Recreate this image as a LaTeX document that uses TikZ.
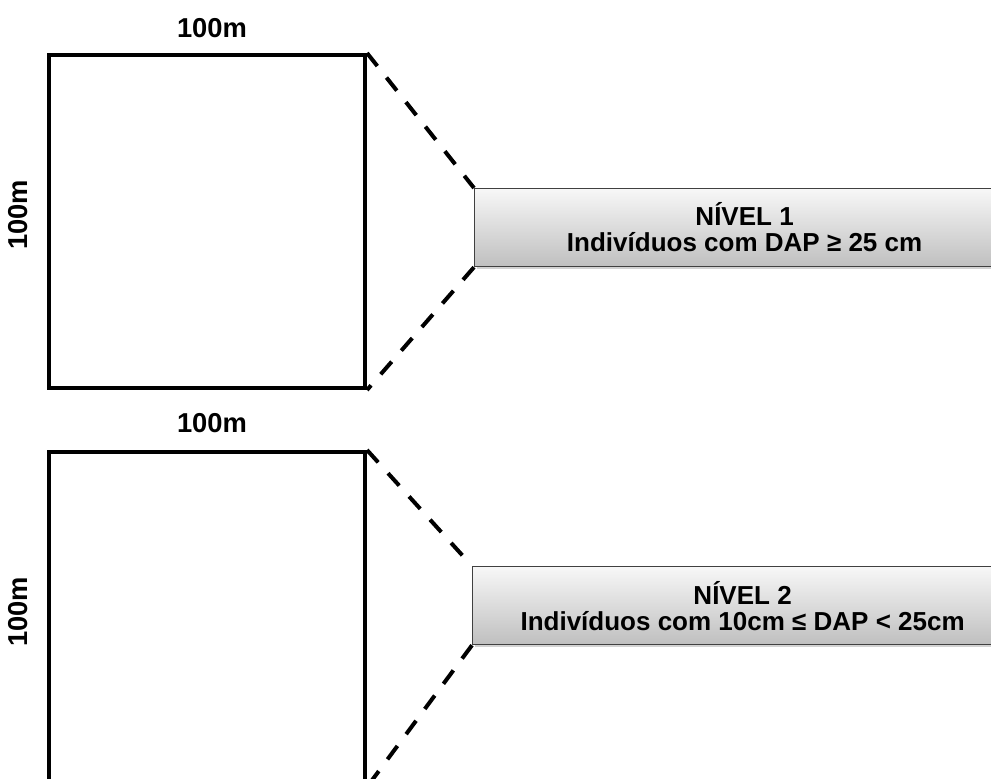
\documentclass[tikz,border=0pt]{standalone}
\usepackage{fontspec}
\setmainfont{Liberation Sans}
\usetikzlibrary{shadows}
\tikzset{
  plot/.style={draw,line width=3pt,minimum width=316*0.75pt,minimum height=333*0.75pt,inner sep=0pt},
  lvl/.style={draw=black!75,line width=0.9pt,top color=gray!6,bottom color=gray!50,
    drop shadow={shadow xshift=2pt,shadow yshift=-2pt,fill=black!35},
    minimum width=540*0.75pt,minimum height=78*0.75pt,align=center,font=\bfseries\fontsize{19.5}{19.5}\selectfont,anchor=north west,inner sep=0pt},
  lbl/.style={font=\bfseries\fontsize{20.5}{22}\selectfont},
  link/.style={line width=3pt,dash pattern=on 12.5pt off 11pt}
}
\begin{document}
\begin{tikzpicture}[x=0.75pt,y=-0.75pt]
  \clip (0,0) rectangle (991,778);
  \fill[white] (0,0) rectangle (991,778);
  % primeira parcela
  \node[plot,anchor=north west] (p1) at (47,53) {};
  \node[lbl] (t1) at (212,28) {100m};
  \node[lbl,rotate=90] (s1) at (18,215) {100m};
  \node[lvl] (n1) at (474,188) {NÍVEL 1\\Indivíduos com DAP ≥ 25 cm};
  \draw[link] (p1.north east) -- (n1.north west);
  \draw[link] (n1.south west) -- (p1.south east);
  % segunda parcela
  \node[plot,anchor=north west] (p2) at (47,450) {};
  \node[lbl] (t2) at (212,423) {100m};
  \node[lbl,rotate=90] (s2) at (18,612) {100m};
  \node[lvl] (n2) at (472,566) {NÍVEL 2\\Indivíduos com 10cm ≤ DAP < 25cm};
  \draw[link] (p2.north east) -- (n2.north west);
  \draw[link] (n2.south west) -- (p2.south east);
\end{tikzpicture}
\end{document}
